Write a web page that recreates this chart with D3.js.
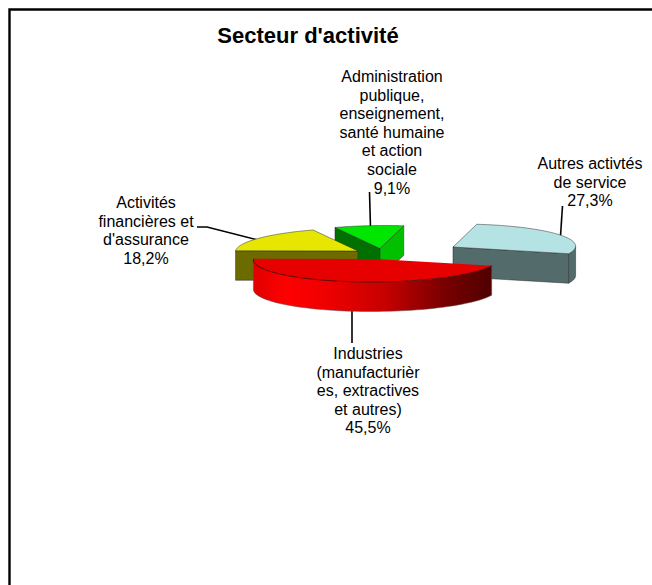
<!DOCTYPE html>
<html>
<head>
<meta charset="utf-8">
<script src="https://cdnjs.cloudflare.com/ajax/libs/d3/7.8.5/d3.min.js"></script>
<style>
html,body{margin:0;padding:0;background:#fff;}
svg{display:block;}
text{font-family:"Liberation Sans",Arial,sans-serif;fill:#000;}
</style>
</head>
<body>
<script>
const title = "Secteur d'activité";
const categories = [
  ["Industries","(manufacturièr","es, extractives","et autres)"],
  ["Activités","financières et","d'assurance"],
  ["Administration","publique,","enseignement,","santé humaine","et action","sociale"],
  ["Autres activtés","de service"]
];
const values = [45.5, 18.2, 9.1, 27.3];

const W = 652, H = 585;
const RX = 122.5, RY = 23, DEPTH = 29.5, SHEAR = 0.22;
const startDeg = 107;
const apex = [[376,259],[358,251],[380,248.5],[453,247]];
const topFill = ["#e60000","#e6e600","#00e600","#b5e3e3"];
const wallFill = ["url(#redWall)","#6b6b00","#007000","#546b6b"];
const drawOrder = [3,2,1,0];
const labelAnchor = [[368,359],[146,208],[392,82],[590,169]];
const leaders = [
  [[352,310],[352,343]],
  [[197,227],[207,227],[258,240]],
  [[369.5,192],[370.5,228]],
  [[562.5,206],[560.5,236]]
];

const svg = d3.select("body").append("svg").attr("width",W).attr("height",H);
const grad = svg.append("defs").append("linearGradient").attr("id","redWall")
  .attr("gradientUnits","userSpaceOnUse").attr("x1",253).attr("x2",491).attr("y1",0).attr("y2",0);
[[0,"#e00000"],[0.14,"#ff0000"],[0.3,"#f00000"],[0.55,"#c80000"],[0.8,"#7a0000"],[1,"#500000"]]
  .forEach(s=>grad.append("stop").attr("offset",s[0]).attr("stop-color",s[1]));

svg.append("path").attr("d",d3.line()([[W,9.5],[9.5,9.5],[9.5,H]]))
  .attr("fill","none").attr("stroke","#000").attr("stroke-width",2.4);

const arcs = d3.pie().sort(null)
  .startAngle(startDeg*Math.PI/180)
  .endAngle((startDeg+360)*Math.PI/180)(values);

const sx = d3.scaleLinear().domain([-1,1]).range([-RX,RX]);
const sy = d3.scaleLinear().domain([-1,1]).range([-RY,RY]);
const line = d3.line();
const rim = (i,a0,a1,dz=0) => {
  const n = 60;
  return d3.range(n+1).map(k=>{
    const a = a0+(a1-a0)*k/n;
    const dy = sy(-Math.cos(a));
    return [apex[i][0]+sx(Math.sin(a))-SHEAR*dy, apex[i][1]+dy+dz];
  });
};
const edge = "#2a2a2a";
leaders.forEach(l=>{
  svg.append("path").attr("d",line(l)).attr("fill","none").attr("stroke","#000").attr("stroke-width",1.6);
});
drawOrder.forEach(i=>{
  const g = svg.append("g");
  const s = arcs[i].startAngle, e = arcs[i].endAngle, c = apex[i];
  const flat = (a,fill) => {
    const p = rim(i,a,a)[0];
    g.append("path").attr("d",line([c,p,[p[0],p[1]+DEPTH],[c[0],c[1]+DEPTH]])+"Z")
      .attr("fill",fill).attr("stroke",edge).attr("stroke-width",0.5);
  };
  // cut walls facing the viewer
  if(i===1) flat(s,wallFill[1]);
  if(i===2){ flat(s,"#007000"); flat(e,"#00c000"); }
  if(i===3) flat(e,wallFill[3]);
  // outer wall on the near half of the rim
  const q = Math.PI/2, pi = Math.PI, sil = 0.04;
  let a0 = null, a1 = null;
  if(i===0){ a0 = s; a1 = Math.min(e,1.5*pi-sil); }
  if(i===3){ a0 = q+2*pi-sil; a1 = e; }
  if(a0!==null){
    const up = rim(i,a0,a1), low = rim(i,a0,a1,DEPTH).reverse();
    g.append("path").attr("d",line(up.concat(low))+"Z")
      .attr("fill",wallFill[i]).attr("stroke",i===0?"#555":edge).attr("stroke-width",0.5);
  }
  // top face
  g.append("path").attr("d",line([c].concat(rim(i,s,e)))+"Z")
    .attr("fill",topFill[i]).attr("stroke",i===0?"none":edge).attr("stroke-width",0.5);
  if(i===0) g.append("path").attr("d",line(rim(i,s,e))).attr("fill","none").attr("stroke","#300").attr("stroke-width",0.7);
});

svg.append("text").attr("x",308).attr("y",43).attr("text-anchor","middle")
  .style("font-weight","bold").style("font-size","22px").text(title);

const fmt = v => d3.format(".1f")(v).replace(".",",")+"%";
categories.forEach((lines,i)=>{
  const t = svg.append("text").attr("text-anchor","middle").style("font-size","16px");
  lines.concat(fmt(values[i])).forEach((s,k)=>{
    t.append("tspan").attr("x",labelAnchor[i][0]).attr("y",labelAnchor[i][1]+k*18.6).text(s);
  });
});
</script>
</body>
</html>
